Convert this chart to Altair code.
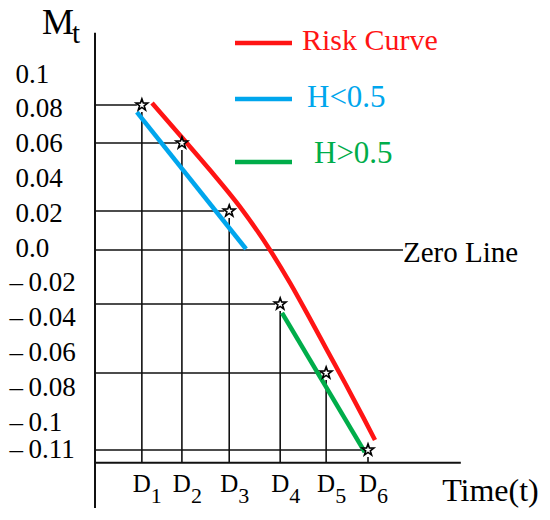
import altair as alt
import pandas as pd

# ---------------- data ----------------
D_SUB = ["1", "2", "3", "4", "5", "6"]
D_TIME = [1.03, 1.91, 2.95, 4.07, 5.08, 6.0]          # time position of D1..D6
D_MT = [0.08, 0.06, 0.02, -0.04, -0.08, -0.11]        # M_t at D1..D6

RISK_T = [1.253, 1.960, 2.527, 3.187, 3.846, 4.286, 4.703, 5.099, 5.495, 5.890, 6.154]
RISK_M = [0.0811, 0.0616, 0.0441, 0.0224, 0.0, -0.0244, -0.0475, -0.0667, -0.0839, -0.0971, -0.1061]

LOW_T = [0.92, 3.32]       # H<0.5 segment
LOW_M = [0.0763, 0.0005]
HIGH_T = [4.11, 5.93]      # H>0.5 segment
HIGH_M = [-0.0452, -0.1108]

TICK_VALUES = [0.1, 0.08, 0.06, 0.04, 0.02, 0.0, -0.02, -0.04, -0.06, -0.08, -0.1, -0.11]
TICK_LABELS = ["0.1", "0.08", "0.06", "0.04", "0.02", "0.0",
               "–\u20090.02", "–\u20090.04", "–\u20090.06", "–\u20090.08", "–\u20090.1", "–\u20090.11"]

SERIES_NAMES = ["Risk Curve", "H<0.5", "H>0.5"]
SERIES_COLORS = ["#ff1414", "#00a6ed", "#00ad4a"]

ZERO_T_END = 6.77
T_AXIS_END = 8.04
TIME_LABEL_T = 7.63
M_AXIS_TOP = 0.118
M_AXIS_BASE = -0.115
M_AXIS_BOTTOM = -0.135

FONT = "Liberation Serif"

# ---------------- scales ----------------
X_SCALE = alt.Scale(domain=[0, 8], range=[0, 364], nice=False, zero=False)
Y_SCALE = alt.Scale(domain=[-0.11, -0.08, -0.04, 0.0, 0.02, 0.06, 0.08],
                    range=[442, 365, 296, 242, 203, 135, 97], nice=False, zero=False)
LABEL_SCALE = alt.Scale(domain=[-0.11, -0.1, 0.1], range=[441, 414, 66], nice=False, zero=False)


def X(f):
    return alt.X(f, type="quantitative", scale=X_SCALE, axis=None)


def Y(f):
    return alt.Y(f, type="quantitative", scale=Y_SCALE, axis=None)


# ---------------- tables ----------------
frame = pd.DataFrame({"t": [0.0, 0.0], "t2": [0.0, T_AXIS_END],
                      "m": [M_AXIS_TOP, M_AXIS_BASE], "m2": [M_AXIS_BOTTOM, M_AXIS_BASE]})
pts = pd.DataFrame({"t": D_TIME, "m": D_MT, "sub": D_SUB})
pts["origin"] = 0.0
pts["base"] = M_AXIS_BASE
pts["d"] = "D"

zero_df = pd.DataFrame({"origin": [0.0], "t": [ZERO_T_END], "m": [0.0], "label": ["Zero Line"]})
time_df = pd.DataFrame({"t": [TIME_LABEL_T], "m": [M_AXIS_BASE], "label": ["Time(t)"]})

curves = pd.concat([
    pd.DataFrame({"t": RISK_T, "m": RISK_M, "series": SERIES_NAMES[0]}),
    pd.DataFrame({"t": LOW_T, "m": LOW_M, "series": SERIES_NAMES[1]}),
    pd.DataFrame({"t": HIGH_T, "m": HIGH_M, "series": SERIES_NAMES[2]}),
], ignore_index=True)

color_enc = alt.Color("series:N", scale=alt.Scale(domain=SERIES_NAMES, range=SERIES_COLORS), legend=None)

STAR = ("M0,-1L0.235,-0.324L0.951,-0.309L0.38,0.124L0.588,0.809L0,0.4"
        "L-0.588,0.809L-0.38,0.124L-0.951,-0.309L-0.235,-0.324Z")

layers = []

# axes lines
layers.append(alt.Chart(frame).mark_rule(color="#111", strokeWidth=2).encode(
    x=X("t"), x2="t2", y=Y("m"), y2="m2"))
# horizontal guide lines
layers.append(alt.Chart(pts).mark_rule(color="#111", strokeWidth=1.6, x2Offset=-5).encode(
    x=X("origin"), x2="t", y=Y("m")))
# vertical guide lines
layers.append(alt.Chart(pts).mark_rule(color="#111", strokeWidth=1.6, yOffset=7).encode(
    x=X("t"), y=Y("m"), y2="base"))
# zero line
layers.append(alt.Chart(zero_df).mark_rule(color="#111", strokeWidth=1.6).encode(
    x=X("origin"), x2="t", y=Y("m")))

# curves
layers.append(alt.Chart(curves).mark_line(strokeWidth=4.5, interpolate="monotone").encode(
    x=X("t"), y=Y("m"), color=color_enc, detail="series:N"))

# stars
layers.append(alt.Chart(pts).mark_point(shape=STAR, size=150, filled=True, fill="white",
                                        stroke="black", strokeWidth=1.6, opacity=1).encode(
    x=X("t"), y=Y("m")))

# D labels
layers.append(alt.Chart(pts).mark_text(font=FONT, fontSize=25, align="center", baseline="alphabetic",
                                       dy=29, color="black").encode(x=X("t"), y=Y("base"), text="d:N"))
layers.append(alt.Chart(pts).mark_text(font=FONT, fontSize=22, align="left", baseline="alphabetic",
                                       dx=9, dy=40, color="black").encode(x=X("t"), y=Y("base"), text="sub:N"))

# Zero Line / Time(t)
layers.append(alt.Chart(zero_df).mark_text(font=FONT, fontSize=29, align="left", baseline="alphabetic",
                                           dy=12, color="black").encode(x=X("t"), y=Y("m"), text="label:N"))
layers.append(alt.Chart(time_df).mark_text(font=FONT, fontSize=32, align="left", baseline="alphabetic",
                                           dy=38, color="black").encode(x=X("t"), y=Y("m"), text="label:N"))

# M_t title
layers.append(alt.Chart(pd.DataFrame({"label": ["M"]})).mark_text(
    font=FONT, fontSize=36, align="left", baseline="alphabetic", color="black").encode(
    x=alt.value(-53), y=alt.value(26), text="label:N"))
layers.append(alt.Chart(pd.DataFrame({"label": ["t"]})).mark_text(
    font=FONT, fontSize=29, align="left", baseline="alphabetic", color="black").encode(
    x=alt.value(-23), y=alt.value(35), text="label:N"))

# legend (layout positions, view pixels)
LEGEND_LAYOUT = [  # line y, text x, text baseline, font size
    (35, 207, 42, 30),
    (91, 212, 99, 31),
    (154, 219, 155, 31),
]
for name, col, (ly, tx, ty, fs) in zip(SERIES_NAMES, SERIES_COLORS, LEGEND_LAYOUT):
    layers.append(alt.Chart(pd.DataFrame({"series": [name]})).mark_rule(
        color=col, strokeWidth=4.5).encode(x=alt.value(140), x2=alt.value(197), y=alt.value(ly)))
    layers.append(alt.Chart(pd.DataFrame({"series": [name]})).mark_text(
        font=FONT, fontSize=fs, align="left", baseline="alphabetic", color=col).encode(
        x=alt.value(tx), y=alt.value(ty), text="series:N"))

# y tick labels via axis
vals = ",".join(repr(v) for v in TICK_VALUES)
labs = ",".join("'" + s + "'" for s in TICK_LABELS)
label_expr = f"[{labs}][indexof([{vals}], datum.value)]"
layers.append(alt.Chart(pd.DataFrame({"v": TICK_VALUES})).mark_point(opacity=0).encode(
    y=alt.Y("v:Q", scale=LABEL_SCALE, axis=alt.Axis(
        orient="left", values=TICK_VALUES, labelExpr=label_expr, ticks=False, domain=False,
        grid=False, title=None, labelFont=FONT, labelFontSize=27, labelColor="black",
        labelAlign="left", labelBaseline="middle", labelOverlap=False, labelFlush=False,
        labelPadding={"condition": {"test": "datum.value < 0", "value": 86}, "value": 80}))))

chart = alt.layer(*layers).resolve_scale(y="independent").properties(
    width=447, height=492,
    autosize=alt.AutoSizeParams(type="none"),
    padding={"left": 87, "top": 0, "right": 0, "bottom": 8},
).configure_view(stroke=None)

chart.save("out.html", embed_options={"renderer": "svg", "actions": False})
